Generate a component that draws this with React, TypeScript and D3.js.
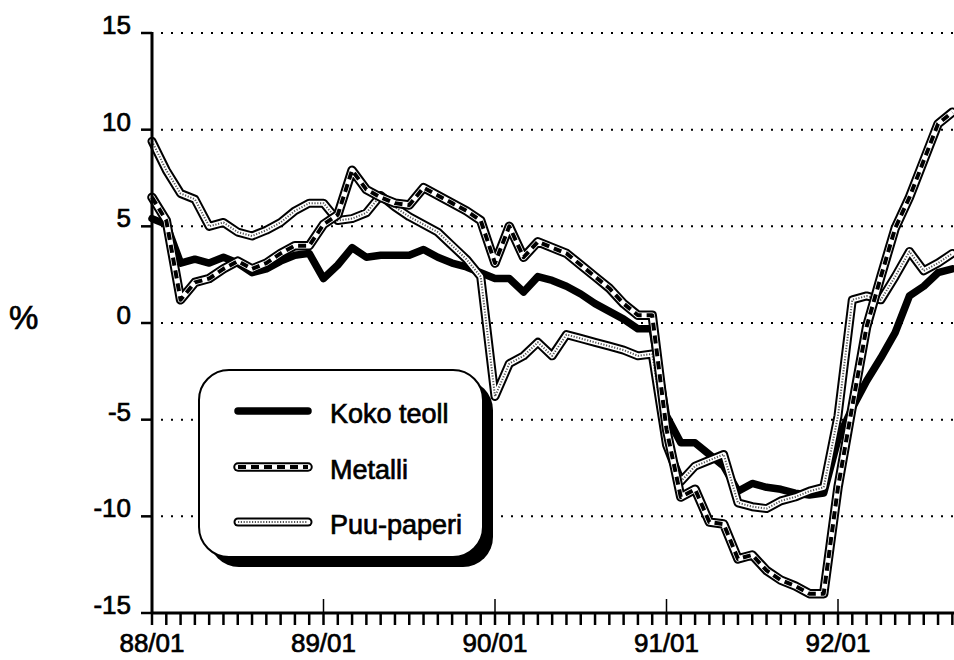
import React from "react";
import * as d3 from "d3";

// Monthly values 88/01 .. 92/09 (index 0 = 88/01)
const kokoTeoll: number[] = [
  5.4, 5.1, 3.1, 3.3, 3.1, 3.4, 3.1, 2.6, 2.8, 3.2, 3.5, 3.6,
  2.3, 3.0, 3.9, 3.4, 3.5, 3.5, 3.5, 3.8, 3.4, 3.1, 2.9, 2.6,
  2.3, 2.3, 1.6, 2.4, 2.2, 1.9, 1.5, 1.0, 0.6, 0.2, -0.3, -0.3,
  -4.8, -6.2, -6.2, -6.8, -7.4, -8.7, -8.3, -8.5, -8.6, -8.8, -8.9, -8.8,
  -6.0, -4.4, -3.0, -1.8, -0.5, 1.4, 1.9, 2.6, 2.8,
];
const metalli: number[] = [
  6.5, 5.3, 1.2, 2.1, 2.3, 2.8, 3.2, 2.8, 3.1, 3.6, 4.0, 4.0,
  5.1, 5.6, 7.9, 6.9, 6.5, 6.2, 6.1, 7.0, 6.6, 6.2, 5.8, 5.3,
  3.1, 5.0, 3.4, 4.2, 3.9, 3.6, 3.0, 2.4, 1.8, 1.0, 0.4, 0.4,
  -5.5, -9.0, -8.6, -10.3, -10.4, -12.2, -12.0, -12.8, -13.3, -13.6, -14.0, -14.0,
  -8.5, -4.3, -0.2, 2.4, 4.9, 6.5, 8.4, 10.3, 10.9,
];
const puuPaperi: number[] = [
  9.4, 7.9, 6.7, 6.4, 5.0, 5.2, 4.7, 4.5, 4.8, 5.2, 5.8, 6.2,
  6.2, 5.3, 5.4, 5.7, 6.6, 6.0, 5.5, 5.1, 4.7, 4.0, 3.3, 2.4,
  -3.8, -2.1, -1.7, -1.0, -1.7, -0.6, -0.8, -1.0, -1.2, -1.4, -1.7, -1.6,
  -6.3, -8.2, -7.4, -7.1, -6.8, -9.3, -9.5, -9.6, -9.2, -9.0, -8.7, -8.5,
  -4.8, 1.2, 1.4, 1.2, 2.4, 3.7, 2.7, 3.1, 3.6,
];
const seriesNames = ["Koko teoll", "Metalli", "Puu-paperi"];
const yTicks = [15, 10, 5, 0, -5, -10, -15];
const yearLabels = ["88/01", "89/01", "90/01", "91/01", "92/01"];

const FONT = "'Liberation Sans', Arial, Helvetica, sans-serif";

const x = d3.scaleLinear().domain([0, 48]).range([152, 838]);
const y = d3.scaleLinear().domain([-15, 15]).range([613, 33]);
const lineGen = d3
  .line<number>()
  .x((_, i) => x(i))
  .y((d) => y(d));

function Koko({ d }: { d: string }) {
  return <path d={d} fill="none" stroke="#000" strokeWidth={7.5} strokeLinejoin="round" strokeLinecap="round" />;
}
function Metal({ d }: { d: string }) {
  return (
    <g fill="none" strokeLinejoin="round">
      <path d={d} stroke="#000" strokeWidth={9.5} strokeLinecap="round" />
      <path d={d} stroke="#fff" strokeWidth={5.5} strokeLinecap="round" />
      <path d={d} stroke="#000" strokeWidth={4} strokeDasharray="8 5" />
    </g>
  );
}
function Puu({ d }: { d: string }) {
  return (
    <g fill="none" strokeLinejoin="round">
      <path d={d} stroke="#000" strokeWidth={9} strokeLinecap="round" />
      <path d={d} stroke="#fff" strokeWidth={5} strokeLinecap="round" />
      <path d={d} stroke="#555" strokeWidth={2} strokeDasharray="1.2 1.6" />
    </g>
  );
}

const textStyle = { stroke: "#000", strokeWidth: 0.7 };

export default function App() {
  const nMonths = kokoTeoll.length;
  const monthTicks = d3.range(nMonths);
  const gridVals = yTicks.filter((v) => v > -15);
  const legendRows = [411, 467, 522];
  return (
    <svg
      width={954}
      height={660}
      style={{ position: "absolute", left: 0, top: 0, background: "#fff" }}
      fontFamily={FONT}
    >
      <rect x={0} y={0} width={954} height={660} fill="#fff" />
      {/* gridlines */}
      {gridVals.map((v) => (
        <line
          key={v}
          x1={161}
          x2={954}
          y1={y(v)}
          y2={y(v)}
          stroke="#000"
          strokeWidth={2}
          strokeDasharray="2 8"
        />
      ))}
      {/* legend */}
      <rect x={209} y={380} width={284} height={187} rx={30} fill="#000" />
      <rect x={199} y={370} width={284} height={187} rx={30} fill="#fff" stroke="#000" strokeWidth={2} />
      {seriesNames.map((name, k) => {
        const ly = legendRows[k];
        const d = `M238,${ly}L308,${ly}`;
        return (
          <g key={name}>
            {k === 0 && <Koko d={d} />}
            {k === 1 && <Metal d={d} />}
            {k === 2 && <Puu d={d} />}
            <text x={330} y={ly + 12} fontSize={27} fill="#000" style={textStyle}>
              {name}
            </text>
          </g>
        );
      })}
      {/* series */}
      <Koko d={lineGen(kokoTeoll) || ""} />
      <Puu d={lineGen(puuPaperi) || ""} />
      <Metal d={lineGen(metalli) || ""} />
      {/* y axis */}
      <line x1={152} x2={152} y1={32} y2={614} stroke="#000" strokeWidth={3} />
      {yTicks.map((v) => (
        <g key={v}>
          <line x1={141} x2={152} y1={y(v)} y2={y(v)} stroke="#000" strokeWidth={2.5} />
          <text x={131} y={y(v) + 1} fontSize={26} textAnchor="end" fill="#000" style={textStyle}>
            {v}
          </text>
        </g>
      ))}
      <text x={9} y={329} fontSize={33} fill="#000" style={textStyle}>
        %
      </text>
      {/* x axis */}
      <line x1={151} x2={954} y1={613} y2={613} stroke="#000" strokeWidth={3} />
      {monthTicks.map((i) => (
        <line key={i} x1={x(i)} x2={x(i)} y1={613} y2={625} stroke="#000" strokeWidth={2.5} />
      ))}
      {yearLabels.map((lab, k) => (
        <g key={lab}>
          {k > 0 && <line x1={x(k * 12)} x2={x(k * 12)} y1={599} y2={613} stroke="#000" strokeWidth={1.5} />}
          <text x={x(k * 12)} y={652} fontSize={26} textAnchor="middle" fill="#000" style={textStyle}>
            {lab}
          </text>
        </g>
      ))}
    </svg>
  );
}
